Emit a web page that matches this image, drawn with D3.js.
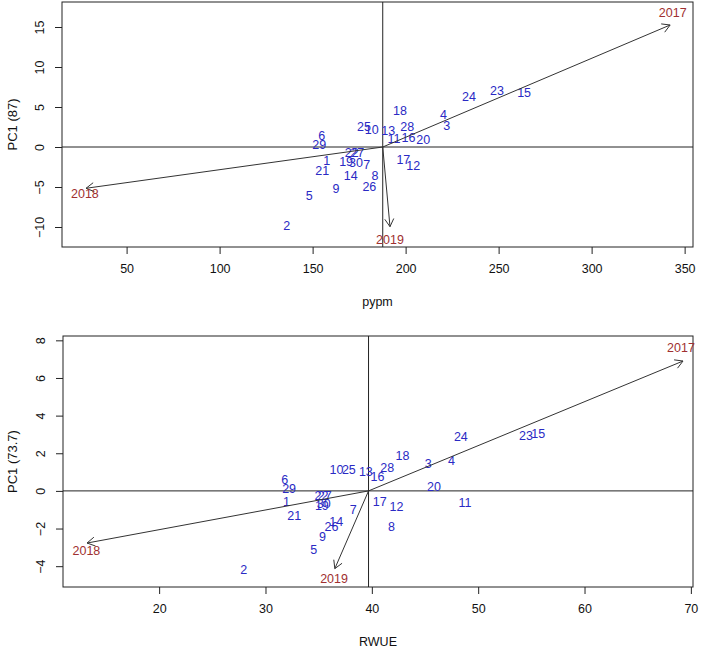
<!DOCTYPE html>
<html><head><meta charset="utf-8">
<script src="https://cdn.jsdelivr.net/npm/d3@7"></script>
<style>body{margin:0;background:#fff}svg{display:block}text{font-family:"Liberation Sans",Arial,sans-serif}</style>
</head><body><div id="chart"></div>
<script>
// ---------- data ----------
const genotypes = ["1","2","3","4","5","6","7","8","9","10","11","12","13","14","15","16","17","18","19","20","21","22","23","24","25","26","27","28","29","30"];
const years = ["2017","2018","2019"];

// panel 1 : pypm vs PC1 (87)
const pypmX = [157.6,136.1,222.1,220.3,148.2,154.9,179.1,183.5,162.6,181.8,193.8,204.1,190.7,170.5,263.7,201.5,198.8,197.0,168.0,209.5,155.2,171.0,249.1,234.1,177.6,180.5,174.0,200.9,153.6,173.3];
const pypmPC = [-1.71,-9.88,2.63,4.0,-6.1,1.38,-2.25,-3.6,-5.2,2.2,1.0,-2.3,2.0,-3.6,6.75,1.2,-1.6,4.5,-1.8,0.9,-2.96,-0.7,7.1,6.25,2.6,-5.0,-0.7,2.5,0.25,-1.96];
const pypmCenter = [187.7, 0];
const pypmArrowX = [342.2, 28.2, 191.6];
const pypmArrowY = [15.25, -5.16, -9.96];
const pypmLabelX = [343.6, 27.6, 191.6];
const pypmLabelY = [16.75, -5.79, -11.54];
const pypmXTicks = [50,100,150,200,250,300,350];
const pypmYTicks = [-10,-5,0,5,10,15];

// panel 2 : RWUE vs PC1 (73.7)
const rwueX = [31.98,27.96,45.3,47.5,34.54,31.82,38.26,41.85,35.36,36.68,48.75,42.32,39.44,36.66,55.64,40.54,40.75,42.89,35.3,45.85,32.71,35.27,54.49,48.37,37.84,36.21,35.58,41.44,32.22,35.48];
const rwuePC = [-0.55,-4.18,1.46,1.63,-3.12,0.61,-0.97,-1.91,-2.45,1.14,-0.6,-0.81,1.05,-1.65,3.02,0.78,-0.55,1.85,-0.76,0.25,-1.29,-0.23,2.96,2.91,1.14,-1.91,-0.23,1.24,0.11,-0.68];
const rwueCenter = [39.69, 0];
const rwueArrowX = [69.26, 13.22, 36.52];
const rwueArrowY = [6.9, -2.77, -4.13];
const rwueLabelX = [69.07, 13.16, 36.45];
const rwueLabelY = [7.6, -3.15, -4.66];
const rwueXTicks = [20,30,40,50,60,70];
const rwueYTicks = [-4,-2,0,2,4,6,8];

// ---------- drawing ----------
const W = 708, H = 650;
const svg = d3.select("#chart").append("svg").attr("width", W).attr("height", H);
const BLUE = "#2a2ac4", BROWN = "#a03030", INK = "#222";

function panel(cfg) {
  const x = d3.scaleLinear().domain(cfg.xDomain).range([cfg.left, cfg.right]);
  const y = d3.scaleLinear().domain(cfg.yDomain).range([cfg.bottom, cfg.top]);
  const g = svg.append("g");

  // axes
  const xa = g.append("g").attr("transform", `translate(0,${cfg.bottom})`)
    .call(d3.axisBottom(x).tickValues(cfg.xTicks).tickSize(7).tickPadding(10).tickSizeOuter(0).tickFormat(d3.format("d")));
  xa.select(".domain").remove();
  xa.selectAll("line").attr("stroke", INK);
  xa.selectAll("text").attr("font-size", 12.5).attr("fill", "#111").attr("font-family", "Liberation Sans, Arial, sans-serif");

  const ya = g.append("g").attr("transform", `translate(${cfg.left},0)`)
    .call(d3.axisLeft(y).tickValues(cfg.yTicks).tickSize(7).tickSizeOuter(0).tickFormat(d3.format("d")));
  ya.select(".domain").remove();
  ya.selectAll("line").attr("stroke", INK);
  ya.selectAll("text")
    .attr("x", null).attr("dy", null)
    .attr("font-size", 12.5).attr("fill", "#111").attr("font-family", "Liberation Sans, Arial, sans-serif")
    .attr("text-anchor", "middle")
    .attr("transform", "translate(-22,0) rotate(-90)")
    .attr("dy", "0.35em");

  // box
  g.append("rect").attr("x", cfg.left).attr("y", cfg.top)
    .attr("width", cfg.right - cfg.left).attr("height", cfg.bottom - cfg.top)
    .attr("fill", "none").attr("stroke", INK).attr("stroke-width", 1);

  // reference lines
  g.append("line").attr("x1", cfg.left).attr("x2", cfg.right)
    .attr("y1", y(cfg.center[1])).attr("y2", y(cfg.center[1])).attr("stroke", INK);
  g.append("line").attr("x1", x(cfg.center[0])).attr("x2", x(cfg.center[0]))
    .attr("y1", cfg.top).attr("y2", cfg.bottom).attr("stroke", INK);

  // titles
  g.append("text").attr("x", (cfg.left + cfg.right) / 2).attr("y", cfg.bottom + 55)
    .attr("text-anchor", "middle").attr("dy", "0.35em").attr("font-size", 12.5).attr("fill", "#111").text(cfg.xTitle);
  g.append("text").attr("transform", `translate(12,${(cfg.top + cfg.bottom) / 2}) rotate(-90)`)
    .attr("text-anchor", "middle").attr("dy", "0.35em").attr("font-size", 13).attr("fill", "#111").text(cfg.yTitle);

  // point labels
  g.selectAll("text.pt").data(genotypes).join("text").attr("class", "pt")
    .attr("x", (d, i) => x(cfg.px[i])).attr("y", (d, i) => y(cfg.py[i]))
    .attr("text-anchor", "middle").attr("dy", "0.35em")
    .attr("font-size", 12.5).attr("fill", BLUE).text(d => d);

  // arrows
  const cx = x(cfg.center[0]), cy = y(cfg.center[1]);
  years.forEach((yr, i) => {
    const tx = x(cfg.ax[i]), ty = y(cfg.ay[i]);
    g.append("line").attr("x1", cx).attr("y1", cy).attr("x2", tx).attr("y2", ty)
      .attr("stroke", "#333").attr("stroke-width", 1);
    const ang = Math.atan2(ty - cy, tx - cx), L = 9, a = Math.PI / 6;
    const path = d3.path();
    path.moveTo(tx - L * Math.cos(ang - a), ty - L * Math.sin(ang - a));
    path.lineTo(tx, ty);
    path.lineTo(tx - L * Math.cos(ang + a), ty - L * Math.sin(ang + a));
    g.append("path").attr("d", path.toString()).attr("fill", "none").attr("stroke", "#333").attr("stroke-width", 1);
    g.append("text").attr("x", x(cfg.lx[i])).attr("y", y(cfg.ly[i]))
      .attr("text-anchor", "middle").attr("dy", "0.35em")
      .attr("font-size", 12.5).attr("fill", BROWN).text(yr);
  });
}

panel({
  left: 62, right: 693, top: 2, bottom: 247,
  xDomain: [15.27, 354.5], yDomain: [-12.5, 18.125],
  xTicks: pypmXTicks, yTicks: pypmYTicks,
  px: pypmX, py: pypmPC, center: pypmCenter,
  ax: pypmArrowX, ay: pypmArrowY, lx: pypmLabelX, ly: pypmLabelY,
  xTitle: "pypm", yTitle: "PC1 (87)"
});

panel({
  left: 63, right: 693, top: 336, bottom: 587,
  xDomain: [10.96, 70.2], yDomain: [-5.106, 8.23],
  xTicks: rwueXTicks, yTicks: rwueYTicks,
  px: rwueX, py: rwuePC, center: rwueCenter,
  ax: rwueArrowX, ay: rwueArrowY, lx: rwueLabelX, ly: rwueLabelY,
  xTitle: "RWUE", yTitle: "PC1 (73.7)"
});
</script>
</body></html>
